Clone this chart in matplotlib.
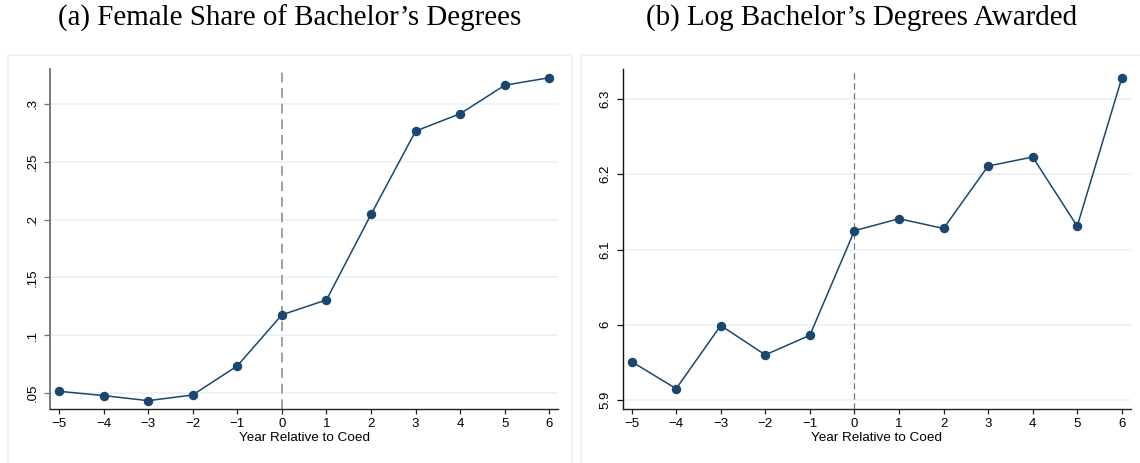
import matplotlib
matplotlib.use("Agg")
import matplotlib.pyplot as plt
from matplotlib.patches import Rectangle
from matplotlib.ticker import FixedLocator, FixedFormatter

years = [-5, -4, -3, -2, -1, 0, 1, 2, 3, 4, 5, 6]
female_share = [0.0517, 0.0480, 0.0436, 0.0485, 0.0736, 0.1177,
                0.1306, 0.2044, 0.2764, 0.2914, 0.3160, 0.3225]
log_degrees = [5.951, 5.915, 5.999, 5.960, 5.986, 6.125,
               6.141, 6.128, 6.211, 6.223, 6.131, 6.328]

left_yticks = [0.05, 0.10, 0.15, 0.20, 0.25, 0.30]
left_ylabels = [".05", ".1", ".15", ".2", ".25", ".3"]
right_yticks = [5.9, 6.0, 6.1, 6.2, 6.3]
right_ylabels = ["5.9", "6", "6.1", "6.2", "6.3"]

title_a = "(a) Female Share of Bachelor\u2019s Degrees"
title_b = "(b) Log Bachelor\u2019s Degrees Awarded"
xlabel = "Year Relative to Coed"

W, H = 1140, 463
fig = plt.figure(figsize=(W / 100, H / 100), dpi=100)

NAVY = "#1a476f"
GRID = "#eaf2f3"
sans = ["Liberation Sans", "DejaVu Sans"]
serif = ["Liberation Serif", "DejaVu Serif"]

# panel frames
for (x0, x1) in [(8, 572), (581, 1150)]:
    fig.patches.append(Rectangle((x0 / W, -0.05), (x1 - x0) / W, 1 - 55 / H + 0.05,
                                 transform=fig.transFigure, fill=False,
                                 edgecolor=GRID, lw=1.2))


def make_panel(rect, y, yticks, ylabels, ylim, vcolor, vlw, vdash, scol, slw):
    ax = fig.add_axes(rect)
    for s in ["top", "right"]:
        ax.spines[s].set_visible(False)
    ax.spines["left"].set_color(scol)
    ax.spines["left"].set_linewidth(slw)
    ax.spines["bottom"].set_color("#222222")
    ax.spines["bottom"].set_linewidth(1.0)
    ax.yaxis.set_major_locator(FixedLocator(yticks))
    ax.yaxis.set_major_formatter(FixedFormatter(ylabels))
    ax.set_xticks(years)
    ax.set_xlim(-5.2, 6.2)
    ax.set_ylim(*ylim)
    ax.grid(axis="y", color=GRID, lw=1.2)
    ax.set_axisbelow(True)
    ax.tick_params(axis="x", direction="out", length=3.3, width=0.9,
                   color="#222222", labelsize=9.5, pad=3)
    ax.tick_params(axis="y", direction="out", length=4, width=0.9,
                   color=scol, labelsize=9.5, pad=4)
    for lab in ax.get_yticklabels():
        lab.set_rotation(90)
        lab.set_va("center")
        lab.set_family(sans)
    for lab in ax.get_xticklabels():
        lab.set_family(sans)
    ax.axvline(0, color=vcolor, lw=vlw, linestyle=(0, vdash), zorder=1)
    ax.plot(years, y, color=NAVY, lw=1.1, marker="o", markersize=5.8,
            markerfacecolor=NAVY, markeredgecolor=NAVY, zorder=3, clip_on=False)
    ax.set_xlabel(xlabel, family=sans, fontsize=9.7, labelpad=1.5)
    return ax


ax1 = make_panel([50 / W, 1 - 409 / H, 508.3 / W, 340 / H], female_share,
                 left_yticks, left_ylabels, (0.0364, 0.330), "#a0a0a0", 1.4, (5, 3),
                 "#707070", 1.3)
ax2 = make_panel([622.7 / W, 1 - 409 / H, 508 / W, 340 / H], log_degrees,
                 right_yticks, right_ylabels, (5.888, 6.340), "#777777", 0.9, (5, 3),
                 "#111111", 1.0)

fig.text(290 / W, 1 - 18 / H, title_a, ha="center", va="center",
         family=serif, fontsize=20.9)
fig.text(862 / W, 1 - 18 / H, title_b, ha="center", va="center",
         family=serif, fontsize=20.9)

fig.savefig("out.png", dpi=100)
